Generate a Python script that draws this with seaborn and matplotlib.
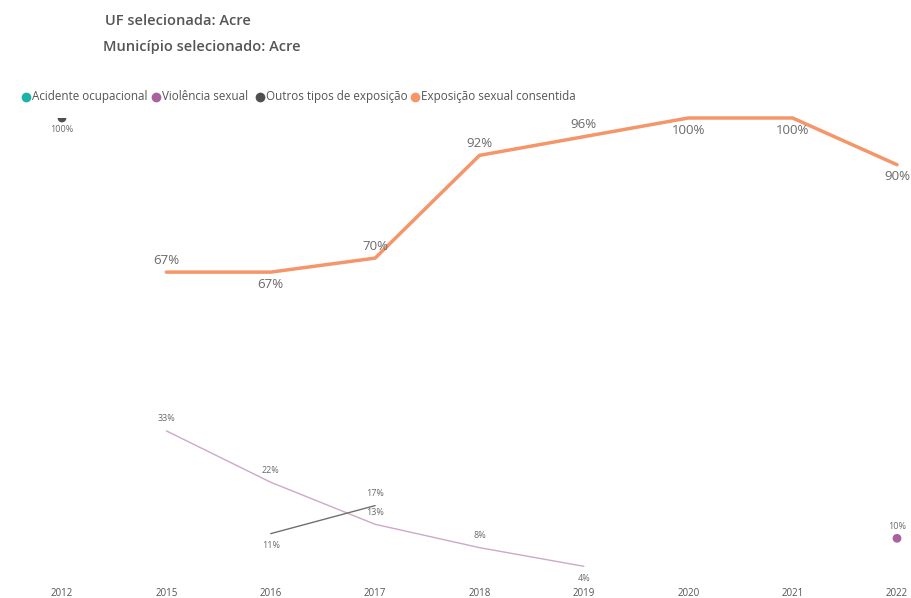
import numpy as np
import pandas as pd
import seaborn as sns
import matplotlib.pyplot as plt

sns.set_theme(style="white")
plt.rcParams["font.family"] = ["Open Sans", "DejaVu Sans"]

years = ["2012", "2015", "2016", "2017", "2018", "2019", "2020", "2021", "2022"]
acidente = [np.nan] * 9
violencia = [np.nan, 33, 22, 13, 8, 4, np.nan, np.nan, 10]
outros = [100, np.nan, 11, 17, np.nan, np.nan, np.nan, np.nan, np.nan]
consentida = [np.nan, 67, 67, 70, 92, 96, 100, 100, 90]

# label side for each point: +1 above, -1 below
violencia_pos = [0, 1, 1, 1, 1, -1, 0, 0, 1]
outros_pos = [-1, 0, -1, 1, 0, 0, 0, 0, 0]
consentida_pos = [0, 1, -1, 1, 1, 1, -1, -1, -1]

series_names = ["Acidente ocupacional", "Violência sexual",
                "Outros tipos de exposição", "Exposição sexual consentida"]
marker_colors = ["#1AB3A6", "#A8629F", "#505050", "#F5956A"]
line_colors = ["#1AB3A6", "#CDA8C8", "#707070", "#F5956A"]
line_widths = [1.0, 1.0, 1.0, 2.5]
label_sizes = [6.5, 6.5, 6.5, 9.5]

values = [acidente, violencia, outros, consentida]
positions = [[0] * 9, violencia_pos, outros_pos, consentida_pos]

fig = plt.figure(figsize=(9.11, 5.98), dpi=100)
W, H = 911, 598
x0_px, x8_px = 62, 897
step = (x8_px - x0_px) / 8
left_px = x0_px - 0.3 * step
right_px = x8_px + 0.1 * step
ax = fig.add_axes([left_px / W, 13 / H, (right_px - left_px) / W, (585 - 118) / H])
ax.set_xlim(-0.3, 8.1)
ax.set_ylim(0, 100)

for name, vals, pos, mc, lc, lw, fs in zip(series_names, values, positions,
                                           marker_colors, line_colors,
                                           line_widths, label_sizes):
    df = pd.DataFrame({"x": np.arange(9), "y": vals})
    # split into contiguous runs so gaps stay open
    run_id = df["y"].isna().cumsum()
    valid = df.dropna()
    for _, seg in valid.groupby(run_id[valid.index]):
        if len(seg) > 1:
            sns.lineplot(data=seg, x="x", y="y", ax=ax, color=lc, linewidth=lw,
                         legend=False, clip_on=False)
        else:
            # a lone point at the top edge is cut by the plot area
            at_top = seg["y"].iloc[0] >= 100
            sns.scatterplot(data=seg, x="x", y="y", ax=ax, color=mc, s=40,
                            edgecolor="none", legend=False, clip_on=at_top)
    for i, (v, p) in enumerate(zip(vals, pos)):
        if np.isnan(v):
            continue
        off = 12 if p > 0 else -12
        ax.annotate(f"{int(v)}%", (i, v), xytext=(0, off), textcoords="offset pixels",
                    ha="center", va="center", fontsize=fs, color="#6a6a6a")

ax.set_xticks(range(9))
ax.set_xticklabels(years, fontsize=7, color="#555555")
ax.set_yticks([])
ax.tick_params(axis="x", length=0, pad=2)
ax.set_xlabel("")
ax.set_ylabel("")
sns.despine(ax=ax, left=True, bottom=True)

fig.text(105 / W, 1 - 21 / H, "UF selecionada: Acre", fontsize=10.5, color="#555555",
         fontweight="semibold", va="center")
fig.text(103 / W, 1 - 47 / H, "Município selecionado: Acre", fontsize=10.5, color="#555555",
         fontweight="semibold", va="center")

# legend row: dot + label, all sharing one text baseline
legend_x = [26, 156, 260, 415]
legend_y = 97
for lx, name, c in zip(legend_x, series_names, marker_colors):
    fig.add_artist(plt.Line2D([lx / W], [1 - legend_y / H], marker="o", markersize=7,
                              markerfacecolor=c, markeredgecolor="none", linestyle="none",
                              transform=fig.transFigure))
    fig.text((lx + 6) / W, 1 - (legend_y + 3.5) / H, name, fontsize=8.4,
             color="#555555", va="baseline", ha="left")

fig.savefig("out.png", dpi=100)
